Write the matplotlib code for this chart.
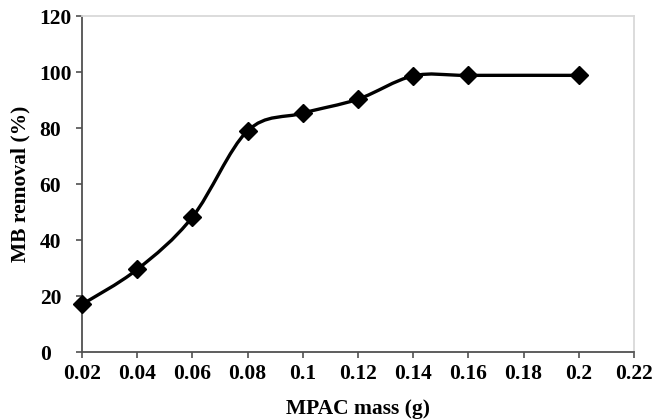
import matplotlib
matplotlib.use("Agg")
import matplotlib.pyplot as plt
import numpy as np
from matplotlib.path import Path
from matplotlib.patches import PathPatch

mass = [0.02, 0.04, 0.06, 0.08, 0.10, 0.12, 0.14, 0.16, 0.20]
removal = [17.0, 29.5, 48.2, 79.0, 85.3, 90.3, 98.6, 98.8, 98.8]
xticks = [0.02, 0.04, 0.06, 0.08, 0.1, 0.12, 0.14, 0.16, 0.18, 0.2, 0.22]
xtick_labels = ["0.02", "0.04", "0.06", "0.08", "0.1", "0.12", "0.14", "0.16", "0.18", "0.2", "0.22"]
yticks = [0, 20, 40, 60, 80, 100, 120]

plt.rcParams['font.family'] = ['Liberation Serif', 'DejaVu Serif']
plt.rcParams['font.weight'] = 'bold'

FS = 15.5
fig = plt.figure(figsize=(6.62, 4.20), dpi=100)
ax = fig.add_axes([0.1239, 0.1619, 0.9577 - 0.1239, 0.9619 - 0.1619])

# Smoothed line (Excel-like Catmull-Rom bezier) built from the data arrays
P = np.column_stack([mass, removal])
verts = [tuple(P[0])]
codes = [Path.MOVETO]
n = len(P)
for i in range(n - 1):
    p0 = P[i - 1] if i > 0 else P[i]
    p1 = P[i]
    p2 = P[i + 1]
    p3 = P[i + 2] if i + 2 < n else P[i + 1]
    c1 = p1 + (p2 - p0) / 6.0
    c2 = p2 - (p3 - p1) / 6.0
    verts += [tuple(c1), tuple(c2), tuple(p2)]
    codes += [Path.CURVE4] * 3
ax.add_patch(PathPatch(Path(verts, codes), facecolor='none', edgecolor='black', lw=2.4, zorder=2))
ax.plot(mass, removal, linestyle='none', marker='D', markersize=9, color='black', zorder=3, clip_on=False)

ax.set_xlim(0.02, 0.22)
ax.set_ylim(0, 120)
ax.set_xticks(xticks)
ax.set_xticklabels(xtick_labels)
ax.set_yticks(yticks)
ax.tick_params(direction='out', length=4.5, width=1.2, color='#505050', labelsize=FS)
ax.tick_params(axis='x', pad=4)
ax.tick_params(axis='y', pad=26)
for lab in ax.get_xticklabels() + ax.get_yticklabels():
    lab.set_fontweight('bold')
for lab in ax.get_yticklabels():
    lab.set_horizontalalignment('left')

for s in ['left', 'bottom']:
    ax.spines[s].set_color('#505050')
    ax.spines[s].set_linewidth(1.3)
for s in ['top', 'right']:
    ax.spines[s].set_color('#d9d9d9')
    ax.spines[s].set_linewidth(1.3)

ax.set_xlabel('MPAC mass (g)', fontsize=FS, fontweight='bold', labelpad=11)
ax.set_ylabel('MB removal (%)', fontsize=FS, fontweight='bold')
ax.yaxis.set_label_coords(-0.094, 0.5)

fig.savefig('out.png', dpi=100)
